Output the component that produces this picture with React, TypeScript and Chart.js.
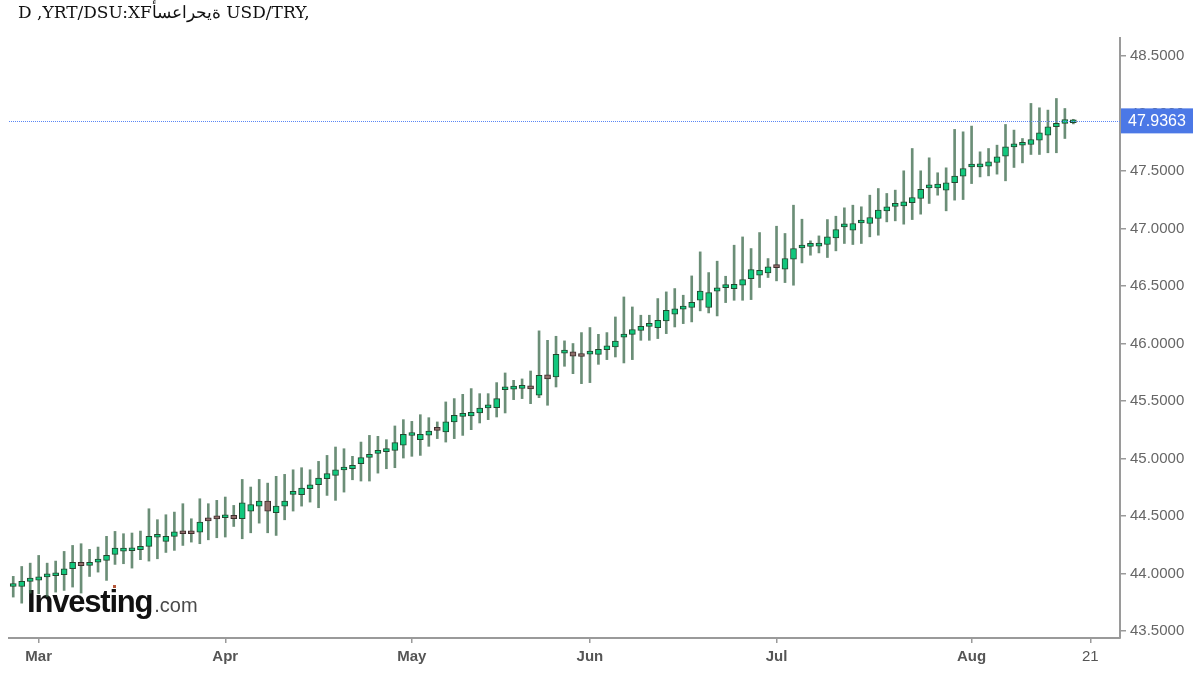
import { useEffect, useRef } from "react";
import { Chart, registerables } from "chart.js";

Chart.register(...registerables);

// Trading days (weekdays); the last entries are future days with no candle
const dates = [
  "2026-02-25", "2026-02-26", "2026-02-27",
  "2026-03-02", "2026-03-03", "2026-03-04", "2026-03-05", "2026-03-06",
  "2026-03-09", "2026-03-10", "2026-03-11", "2026-03-12", "2026-03-13",
  "2026-03-16", "2026-03-17", "2026-03-18", "2026-03-19", "2026-03-20",
  "2026-03-23", "2026-03-24", "2026-03-25", "2026-03-26", "2026-03-27",
  "2026-03-30", "2026-03-31",
  "2026-04-01", "2026-04-02", "2026-04-03",
  "2026-04-06", "2026-04-07", "2026-04-08", "2026-04-09", "2026-04-10",
  "2026-04-13", "2026-04-14", "2026-04-15", "2026-04-16", "2026-04-17",
  "2026-04-20", "2026-04-21", "2026-04-22", "2026-04-23", "2026-04-24",
  "2026-04-27", "2026-04-28", "2026-04-29", "2026-04-30",
  "2026-05-01",
  "2026-05-04", "2026-05-05", "2026-05-06", "2026-05-07", "2026-05-08",
  "2026-05-11", "2026-05-12", "2026-05-13", "2026-05-14", "2026-05-15",
  "2026-05-18", "2026-05-19", "2026-05-20", "2026-05-21", "2026-05-22",
  "2026-05-25", "2026-05-26", "2026-05-27", "2026-05-28", "2026-05-29",
  "2026-06-01", "2026-06-02", "2026-06-03", "2026-06-04", "2026-06-05",
  "2026-06-08", "2026-06-09", "2026-06-10", "2026-06-11", "2026-06-12",
  "2026-06-15", "2026-06-16", "2026-06-17", "2026-06-18", "2026-06-19",
  "2026-06-22", "2026-06-23", "2026-06-24", "2026-06-25", "2026-06-26",
  "2026-06-29", "2026-06-30",
  "2026-07-01", "2026-07-02", "2026-07-03",
  "2026-07-06", "2026-07-07", "2026-07-08", "2026-07-09", "2026-07-10",
  "2026-07-13", "2026-07-14", "2026-07-15", "2026-07-16", "2026-07-17",
  "2026-07-20", "2026-07-21", "2026-07-22", "2026-07-23", "2026-07-24",
  "2026-07-27", "2026-07-28", "2026-07-29", "2026-07-30", "2026-07-31",
  "2026-08-03", "2026-08-04", "2026-08-05", "2026-08-06", "2026-08-07",
  "2026-08-10", "2026-08-11", "2026-08-12", "2026-08-13", "2026-08-14",
  "2026-08-17", "2026-08-18", "2026-08-19", "2026-08-20", "2026-08-21",
  "2026-08-24", "2026-08-25", "2026-08-26",
];

const openPrices = [
  43.887, 43.887, 43.931, 43.942, 43.970, 43.980, 43.989, 44.041, 44.096, 44.070,
  44.099, 44.114, 44.166, 44.195, 44.198, 44.207, 44.236, 44.315, 44.279, 44.323,
  44.366, 44.366, 44.360, 44.462, 44.480, 44.485, 44.505, 44.476, 44.543, 44.586,
  44.630, 44.528, 44.586, 44.688, 44.685, 44.737, 44.772, 44.824, 44.853, 44.900,
  44.911, 44.955, 45.010, 45.045, 45.060, 45.071, 45.117, 45.200, 45.164, 45.202,
  45.248, 45.231, 45.318, 45.366, 45.370, 45.396, 45.441, 45.442, 45.598, 45.604,
  45.610, 45.607, 45.550, 45.727, 45.709, 45.917, 45.927, 45.890, 45.908, 45.906,
  45.947, 45.970, 46.055, 46.080, 46.115, 46.149, 46.138, 46.197, 46.255, 46.299,
  46.313, 46.376, 46.313, 46.455, 46.486, 46.478, 46.507, 46.565, 46.594, 46.614,
  46.662, 46.646, 46.733, 46.831, 46.845, 46.847, 46.861, 46.919, 47.014, 46.986,
  47.048, 47.044, 47.087, 47.154, 47.193, 47.197, 47.224, 47.261, 47.353, 47.354,
  47.334, 47.398, 47.455, 47.535, 47.536, 47.542, 47.574, 47.629, 47.710, 47.724,
  47.731, 47.769, 47.812, 47.885, 47.914, 47.920,
];

const highPrices = [
  43.975, 44.061, 44.090, 44.157, 44.090, 44.108, 44.192, 44.244, 44.259, 44.210,
  44.230, 44.323, 44.366, 44.346, 44.352, 44.369, 44.563, 44.468, 44.511, 44.534,
  44.607, 44.476, 44.650, 44.607, 44.636, 44.665, 44.592, 44.818, 44.752, 44.818,
  44.786, 44.845, 44.862, 44.902, 44.920, 44.902, 44.975, 45.027, 45.100, 45.085,
  45.019, 45.143, 45.201, 45.193, 45.164, 45.283, 45.338, 45.323, 45.381, 45.355,
  45.318, 45.492, 45.521, 45.558, 45.608, 45.564, 45.564, 45.660, 45.744, 45.680,
  45.692, 45.761, 46.110, 46.028, 46.063, 46.023, 46.000, 46.095, 46.139, 46.080,
  46.095, 46.231, 46.405, 46.318, 46.246, 46.246, 46.391, 46.449, 46.478, 46.420,
  46.588, 46.797, 46.617, 46.716, 46.585, 46.855, 46.927, 46.826, 46.965, 46.739,
  47.020, 46.957, 47.203, 47.081, 46.893, 46.936, 47.078, 47.107, 47.180, 47.203,
  47.189, 47.290, 47.348, 47.305, 47.334, 47.502, 47.696, 47.502, 47.615, 47.485,
  47.528, 47.862, 47.841, 47.891, 47.667, 47.696, 47.725, 47.905, 47.856, 47.783,
  48.088, 48.050, 48.030, 48.131, 48.044, 47.950,
];

const lowPrices = [
  43.795, 43.742, 43.829, 43.824, 43.800, 43.838, 43.853, 43.882, 43.830, 43.974,
  44.012, 43.940, 44.079, 44.085, 44.047, 44.120, 44.108, 44.128, 44.183, 44.201,
  44.244, 44.273, 44.259, 44.293, 44.311, 44.317, 44.409, 44.302, 44.354, 44.438,
  44.354, 44.331, 44.467, 44.543, 44.586, 44.621, 44.572, 44.679, 44.636, 44.708,
  44.815, 44.804, 44.804, 44.873, 44.911, 44.920, 45.004, 45.019, 45.027, 45.106,
  45.173, 45.143, 45.173, 45.201, 45.251, 45.309, 45.338, 45.361, 45.396, 45.512,
  45.521, 45.477, 45.529, 45.463, 45.622, 45.802, 45.738, 45.651, 45.660, 45.819,
  45.860, 45.883, 45.831, 45.860, 46.028, 46.028, 46.043, 46.086, 46.144, 46.173,
  46.188, 46.284, 46.266, 46.240, 46.356, 46.376, 46.376, 46.382, 46.487, 46.574,
  46.545, 46.530, 46.507, 46.701, 46.768, 46.788, 46.748, 46.806, 46.870, 46.861,
  46.870, 46.928, 46.942, 47.058, 47.067, 47.038, 47.078, 47.125, 47.218, 47.290,
  47.154, 47.247, 47.252, 47.391, 47.449, 47.458, 47.473, 47.415, 47.531, 47.571,
  47.644, 47.644, 47.659, 47.659, 47.783, 47.910,
];

const closePrices = [
  43.889, 43.931, 43.960, 43.972, 43.975, 43.985, 44.041, 44.096, 44.067, 44.096,
  44.114, 44.157, 44.221, 44.200, 44.213, 44.236, 44.323, 44.318, 44.323, 44.363,
  44.346, 44.346, 44.447, 44.457, 44.475, 44.490, 44.476, 44.615, 44.600, 44.630,
  44.543, 44.586, 44.630, 44.690, 44.743, 44.772, 44.830, 44.868, 44.902, 44.905,
  44.940, 45.007, 45.013, 45.048, 45.062, 45.138, 45.210, 45.202, 45.210, 45.239,
  45.245, 45.318, 45.376, 45.367, 45.402, 45.439, 45.443, 45.521, 45.600, 45.606,
  45.612, 45.605, 45.724, 45.692, 45.906, 45.918, 45.890, 45.887, 45.912, 45.950,
  45.979, 46.022, 46.057, 46.121, 46.150, 46.150, 46.202, 46.289, 46.301, 46.301,
  46.359, 46.457, 46.443, 46.484, 46.487, 46.515, 46.556, 46.643, 46.637, 46.667,
  46.660, 46.739, 46.826, 46.832, 46.847, 46.864, 46.928, 46.991, 47.015, 47.044,
  47.050, 47.096, 47.160, 47.188, 47.195, 47.232, 47.270, 47.340, 47.354, 47.386,
  47.398, 47.456, 47.522, 47.537, 47.537, 47.580, 47.624, 47.710, 47.711, 47.726,
  47.774, 47.832, 47.885, 47.914, 47.948, 47.936,
];

const yTicks = [43.5, 44.0, 44.5, 45.0, 45.5, 46.0, 46.5, 47.0, 47.5, 48.0, 48.5];
const xTickDates = ["2026-03-02", "2026-04-01", "2026-05-01", "2026-06-01", "2026-07-01", "2026-08-03", "2026-08-21"];
const xTickLabels = ["Mar", "Apr", "May", "Jun", "Jul", "Aug", "21"];
const lastPrice = 47.9363;
const titleText = "D ,YRT/DSU:XF" + "ةيحراعسأ" + " USD/TRY,";
const logoMain = "Investing";
const logoSuffix = ".com";

const overlayPlugin = {
  id: "overlay",
  beforeDatasetsDraw(chart: any) {
    const { ctx } = chart;
    ctx.save();
    ctx.textBaseline = "alphabetic";
    ctx.textAlign = "left";
    ctx.fillStyle = "#111";
    ctx.font = 'bold 31px "Liberation Sans", Arial, sans-serif';
    (ctx as any).letterSpacing = "-1.2px";
    ctx.fillText(logoMain, 27, 612);
    const w = ctx.measureText(logoMain).width;
    (ctx as any).letterSpacing = "0px";
    ctx.fillStyle = "#4a4a4a";
    ctx.font = '20px "Liberation Sans", Arial, sans-serif';
    ctx.fillText(logoSuffix, 27 + w + 2, 612);
    ctx.fillStyle = "#b5573a";
    ctx.fillRect(113, 585, 3, 3);
    ctx.restore();
  },
  afterDatasetsDraw(chart: any) {
    const { ctx, chartArea, scales } = chart;
    const y = Math.round(scales.y.getPixelForValue(lastPrice)) + 0.5;
    ctx.save();
    ctx.strokeStyle = "#5a86f5";
    ctx.lineWidth = 1;
    ctx.setLineDash([1, 1]);
    ctx.beginPath();
    ctx.moveTo(chartArea.left, y);
    ctx.lineTo(chartArea.right, y);
    ctx.stroke();
    ctx.restore();
  },
  afterDraw(chart: any) {
    const { ctx, chartArea, scales } = chart;
    const y = scales.y.getPixelForValue(lastPrice);
    ctx.save();
    ctx.fillStyle = "#4b78e6";
    ctx.fillRect(chartArea.right + 1, y - 12.5, 72, 25);
    ctx.fillStyle = "#ffffff";
    ctx.font = '16px "Liberation Sans", Arial, sans-serif';
    ctx.textBaseline = "middle";
    ctx.textAlign = "left";
    ctx.fillText(lastPrice.toFixed(4), chartArea.right + 8, y + 1);
    // title
    ctx.fillStyle = "#111";
    ctx.font = '17px "DejaVu Serif", serif';
    ctx.textBaseline = "middle";
    ctx.direction = "ltr";
    ctx.fillText(titleText, 18, 14);
    ctx.restore();
  },
};

export default function App() {
  const ref = useRef<HTMLCanvasElement>(null);
  useEffect(() => {
    const canvas = ref.current;
    if (!canvas) return;
    const up = closePrices.map((c, i) => c >= openPrices[i]);
    const chart = new Chart(canvas, {
      type: "bar",
      data: {
        labels: dates,
        datasets: [
          {
            label: "body",
            data: openPrices.map((o, i) => [o, closePrices[i]]) as any,
            backgroundColor: up.map((u) => (u ? "#12c77d" : "#8e6e6a")),
            borderColor: up.map((u) => (u ? "#23472e" : "#3f2c2c")),
            borderWidth: 1,
            borderSkipped: false,
            barThickness: 6,
            minBarLength: 3,
            grouped: false,
            order: 1,
          } as any,
          {
            label: "wick",
            data: lowPrices.map((l, i) => [l, highPrices[i]]) as any,
            backgroundColor: "rgba(58,104,74,0.75)",
            borderWidth: 0,
            barThickness: 2,
            grouped: false,
            order: 2,
          } as any,
        ],
      },
      options: {
        animation: false,
        responsive: false,
        layout: { padding: { left: 9, top: 38, right: 0, bottom: 0 } },
        plugins: {
          legend: { display: false },
          tooltip: { enabled: false },
        },
        scales: {
          x: {
            type: "category",
            offset: true,
            grid: { display: true, offset: false, drawOnChartArea: false, drawTicks: true, tickLength: 5, color: "#9a9a9a", lineWidth: 1.5 },
            border: { display: true, color: "#9a9a9a", width: 2 },
            ticks: {
              autoSkip: false,
              maxRotation: 0,
              minRotation: 0,
              padding: 5,
              color: "#555",
              font: (ctx: any) => {
                const v = ctx.tick ? ctx.tick.value : -1;
                const k = xTickDates.indexOf(dates[v]);
                const lab = k >= 0 ? xTickLabels[k] : "";
                return { family: '"Liberation Sans", Arial, sans-serif', size: 15, weight: isNaN(Number(lab)) ? "bold" : "normal" };
              },
              callback: (value: any) => {
                const k = xTickDates.indexOf(dates[Number(value)]);
                return k >= 0 ? xTickLabels[k] : "";
              },
            },
            afterBuildTicks: (scale: any) => {
              scale.ticks = xTickDates.map((d) => ({ value: dates.indexOf(d) }));
            },
            afterFit: (scale: any) => {
              scale.height = 37;
            },
          } as any,
          y: {
            type: "linear",
            position: "right",
            min: 43.439,
            max: 48.657,
            grid: { display: true, drawOnChartArea: false, drawTicks: true, tickLength: 6, color: "#9a9a9a", lineWidth: 1.5 },
            border: { display: true, color: "#9a9a9a", width: 2 },
            ticks: {
              color: "#666",
              padding: 4,
              font: { family: '"Liberation Sans", Arial, sans-serif', size: 15 },
              callback: (v: any) => Number(v).toFixed(4),
            },
            afterBuildTicks: (scale: any) => {
              scale.ticks = yTicks.map((v) => ({ value: v }));
            },
            afterFit: (scale: any) => {
              scale.width = 80;
            },
          } as any,
        },
      },
      plugins: [overlayPlugin],
    });
    return () => chart.destroy();
  }, []);
  return (
    <div style={{ position: "fixed", left: 0, top: 0, width: 1200, height: 675, background: "#fff" }}>
      <canvas ref={ref} width={1200} height={675} style={{ width: 1200, height: 675, display: "block" }} />
    </div>
  );
}
